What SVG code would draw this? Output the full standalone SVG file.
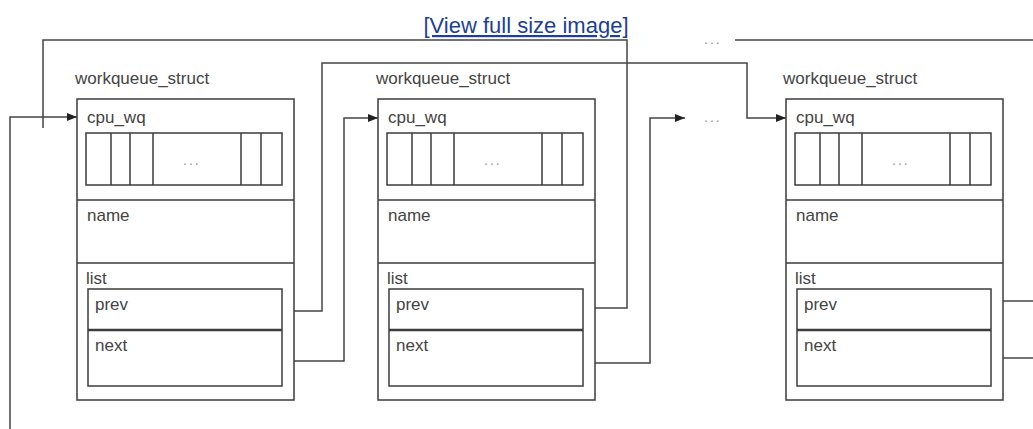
<svg xmlns="http://www.w3.org/2000/svg" width="1033" height="429" viewBox="0 0 1033 429">
<style>
.bg{fill:#fff}
.box{fill:#fff;stroke:#3c3c3c;stroke-width:1.5}
.ln{fill:none;stroke:#3c3c3c;stroke-width:1.5}
.thick{fill:none;stroke:#3c3c3c;stroke-width:2.5}
.conn{fill:none;stroke:#444;stroke-width:1.5}
.t{font-family:"Liberation Sans",Arial,sans-serif;font-size:17px;fill:#444}
.dots{font-family:"Liberation Sans",Arial,sans-serif;font-size:14px;fill:#999;letter-spacing:2px}
.link{font-family:"Liberation Sans",Arial,sans-serif;font-size:22px;fill:#1c3f9a;text-decoration:underline}
</style>
<defs>
<marker id="arr" markerUnits="userSpaceOnUse" markerWidth="11" markerHeight="9" refX="10" refY="4.5" orient="auto">
<path d="M0,0.5 L10,4.5 L0,8.5 z" fill="#222"/>
</marker>
<g id="wq">
<rect class="box" x="0" y="0" width="217" height="301"/>
<text class="t" x="10" y="24">cpu_wq</text>
<rect class="ln" x="9" y="34" width="196" height="52"/>
<path class="ln" d="M34,34V86M53,34V86M76,34V86M164,34V86M184,34V86"/>
<text class="dots" x="106" y="66">...</text>
<path class="ln" d="M0,101H217M0,164H217"/>
<text class="t" x="10" y="122">name</text>
<text class="t" x="9" y="185">list</text>
<rect class="ln" x="11" y="190" width="194" height="97"/>
<path class="thick" d="M11,231H205"/>
<text class="t" x="18" y="211">prev</text>
<text class="t" x="18" y="252">next</text>
</g>
</defs>
<rect class="bg" x="0" y="0" width="1033" height="429"/>
<text class="link" x="526" y="33" text-anchor="middle">[View full size image]</text>

<g id="connectors">
<path class="conn" d="M10,429V117H77" marker-end="url(#arr)"/>
<path class="conn" d="M584,308H627V40H43V128"/>
<path class="conn" d="M282,311H322V63H747V118H786" marker-end="url(#arr)"/>
<path class="conn" d="M282,361H344V118H378" marker-end="url(#arr)"/>
<path class="conn" d="M584,363H650V118H685" marker-end="url(#arr)"/>
<path class="conn" d="M735,40H1033"/>
<path class="conn" d="M992,301H1033"/>
<path class="conn" d="M992,358H1033"/>
<text class="dots" x="704" y="44">...</text>
<text class="dots" x="704" y="122">...</text>
</g>

<g id="node1">
<text class="t" x="75" y="84">workqueue_struct</text>
<use href="#wq" x="77" y="99"/>
</g>
<g id="node2">
<text class="t" x="376" y="84">workqueue_struct</text>
<use href="#wq" x="378" y="99"/>
</g>
<g id="node3">
<text class="t" x="783" y="84">workqueue_struct</text>
<use href="#wq" x="786" y="99"/>
</g>
</svg>
